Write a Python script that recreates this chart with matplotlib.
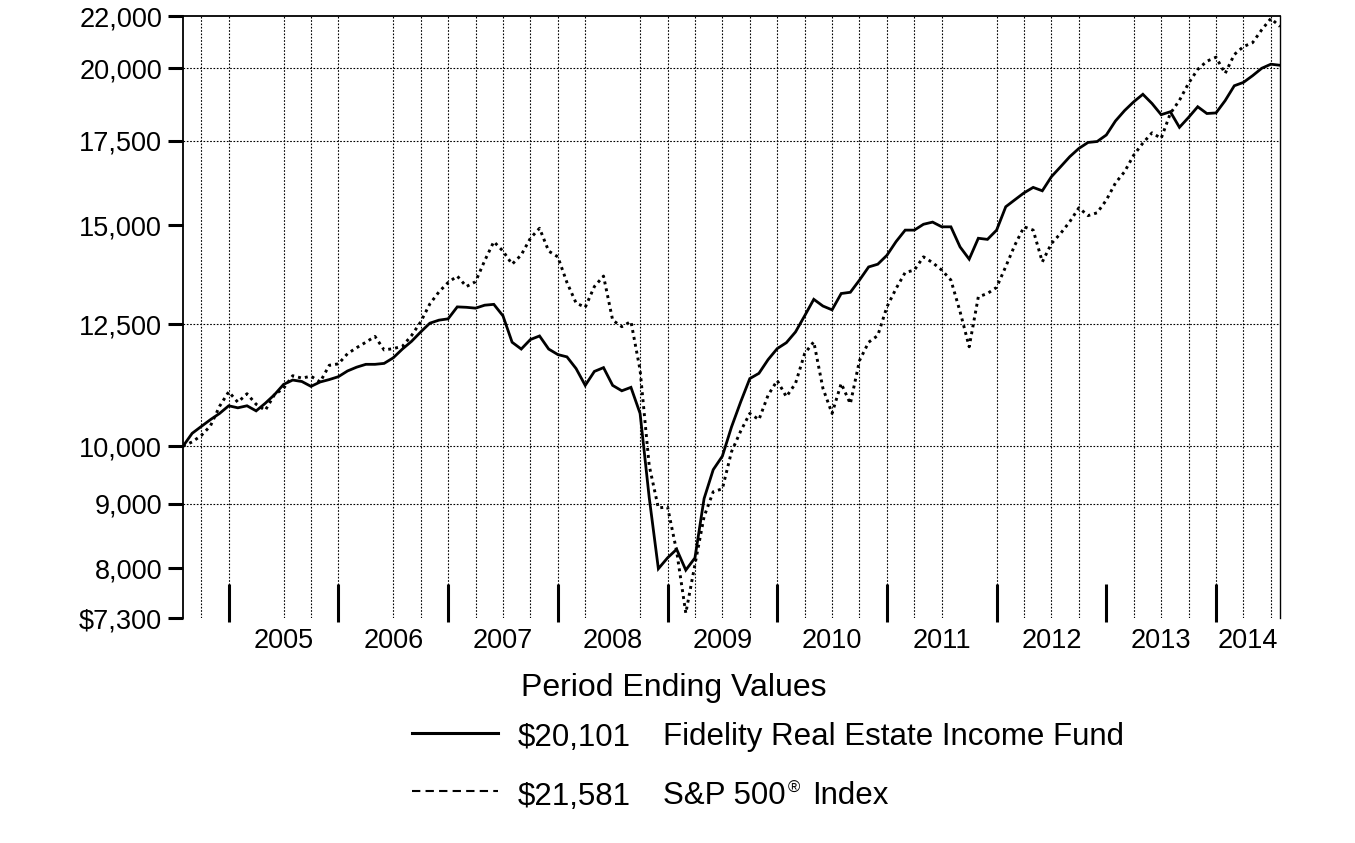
import matplotlib
matplotlib.use('Agg')
import matplotlib.pyplot as plt
from matplotlib.lines import Line2D
import numpy as np

plt.rcParams['font.family'] = ['Liberation Sans', 'DejaVu Sans']

# month-end values, Jul 2004 .. Jul 2014 (121 points)
fund = [10000, 10240, 10370, 10500, 10620, 10770, 10730, 10770, 10670, 10820,
        10990, 11200, 11290, 11260, 11160, 11250, 11300, 11360, 11480, 11560,
        11620, 11620, 11640, 11760, 11950, 12120, 12330, 12530, 12600, 12630,
        12910, 12900, 12880, 12950, 12970, 12700, 12100, 11950, 12160, 12240,
        11950, 11830, 11780, 11530, 11180, 11470, 11550, 11180, 11070, 11140,
        10620, 9100, 7990, 8150, 8280, 7970, 8150, 9085, 9580, 9820,
        10360, 10845, 11320, 11430, 11720, 11960, 12090, 12330, 12700, 13090,
        12930, 12840, 13230, 13260, 13560, 13890, 13960, 14190, 14550, 14860,
        14860, 15020, 15080, 14950, 14950, 14410, 14090, 14640, 14610, 14860,
        15510, 15710, 15910, 16070, 15970, 16390, 16690, 17000, 17260, 17450,
        17480, 17690, 18150, 18500, 18800, 19060, 18740, 18360, 18460, 17940,
        18270, 18630, 18400, 18420, 18840, 19360, 19480, 19720, 19990, 20140,
        20101]

sp500 = [10000, 10080, 10200, 10380, 10760, 11050, 10840, 11010, 10800, 10680,
         10990, 11120, 11380, 11330, 11370, 11250, 11600, 11630, 11850, 11980,
         12100, 12230, 11930, 11960, 12010, 12250, 12560, 12980, 13270, 13500,
         13660, 13400, 13520, 14050, 14550, 14300, 13960, 14200, 14640, 14910,
         14300, 14150, 13500, 13000, 12900, 13400, 13660, 12600, 12450, 12570,
         11500, 9650, 8930, 8950, 8250, 7365, 8050, 8790, 9200, 9250,
         9900, 10280, 10620, 10500, 10980, 11280, 10950, 11220, 11850, 12110,
         11120, 10620, 11220, 10810, 11700, 12100, 12250, 12910, 13350, 13750,
         13810, 14150, 14000, 13810, 13560, 12800, 12000, 13150, 13230, 13380,
         13900, 14460, 14950, 14860, 14020, 14500, 14770, 15090, 15480, 15260,
         15340, 15700, 16200, 16540, 17050, 17430, 17760, 17580, 18400, 18850,
         19450, 19950, 20250, 20400, 19800, 20500, 20800, 20950, 21450, 21900,
         21581]

years = ['2005', '2006', '2007', '2008', '2009', '2010', '2011', '2012', '2013', '2014']
year_ends = [5, 17, 29, 41, 53, 65, 77, 89, 101, 113]   # December of each year (month index)
y_ticks = [7300, 8000, 9000, 10000, 12500, 15000, 17500, 20000, 22000]
y_labels = ['$7,300', '8,000', '9,000', '10,000', '12,500', '15,000', '17,500', '20,000', '22,000']
h_grid = [9000, 10000, 12500, 17500, 20000]
v_grid = [m for m in range(2, 120, 3) if m not in (8, 20, 47, 86, 101)]

months = np.arange(len(fund))

fig = plt.figure(figsize=(13.55, 8.43), dpi=100)
ax = fig.add_axes([0.13506, 0.26690, 0.80959, 0.71412])

grid_kw = dict(color='black', linewidth=0.8, linestyle=(0, (1.5, 1.5)), zorder=1)
for m in v_grid:
    ax.axvline(m, **grid_kw)
for v in h_grid:
    ax.axhline(v, **grid_kw)

ax.plot(months, fund, color='black', linewidth=2.0, solid_joinstyle='miter', zorder=3)
ax.plot(months, sp500, color='black', linewidth=2.1, linestyle=(0, (1.0, 1.4)), zorder=3)

ax.set_yscale('log')
ax.set_ylim(7300, 22000)
ax.set_xlim(0, 120)
ax.set_yticks(y_ticks)
ax.set_yticklabels(y_labels)
ax.yaxis.set_minor_locator(matplotlib.ticker.NullLocator())
ax.tick_params(axis='y', which='major', length=11, width=2.2, pad=4, labelsize=19.5)

# year separators and centred year labels
ax.set_xticks([])
ax.vlines(year_ends, -0.007, 0.057, transform=ax.get_xaxis_transform(),
          color='black', linewidth=2.2, clip_on=False, zorder=4)
bounds = [0] + year_ends + [120]
centers = [(bounds[i] + bounds[i + 1]) / 2 for i in range(1, len(bounds) - 1)]
ax.set_xticks(centers, minor=True)
ax.set_xticklabels(years, minor=True)
ax.tick_params(axis='x', which='minor', length=0, pad=7, labelsize=19.5)

ax.spines['bottom'].set_visible(False)
ax.spines['left'].set_linewidth(1.3)
ax.spines['top'].set_linewidth(1.3)
ax.spines['right'].set_linewidth(1.0)

# legend block
W, H = 1355, 843
def fx(px):
    return px / W
def fy(py):
    return 1 - py / H

fig.text(fx(521), fy(688), 'Period Ending Values', fontsize=23, va='center', ha='left')
fig.add_artist(Line2D([fx(412), fx(498)], [fy(733), fy(733)], color='black', linewidth=2.2))
fig.text(fx(518), fy(738), '$20,101', fontsize=22.5, va='center', ha='left')
fig.text(fx(663), fy(737), 'Fidelity Real Estate Income Fund', fontsize=22.5, va='center', ha='left')
fig.add_artist(Line2D([fx(412), fx(498)], [fy(791), fy(791)], color='black', linewidth=1.5,
                      linestyle=(0, (4, 2.5))))
fig.text(fx(518), fy(797), '$21,581', fontsize=22.5, va='center', ha='left')
fig.text(fx(663), fy(796), 'S&P 500', fontsize=22.5, va='center', ha='left')
fig.text(fx(788), fy(788), '\u00ae', fontsize=12, va='center', ha='left')
fig.text(fx(812), fy(796), 'Index', fontsize=22.5, va='center', ha='left')

fig.savefig('out.png', dpi=100)
